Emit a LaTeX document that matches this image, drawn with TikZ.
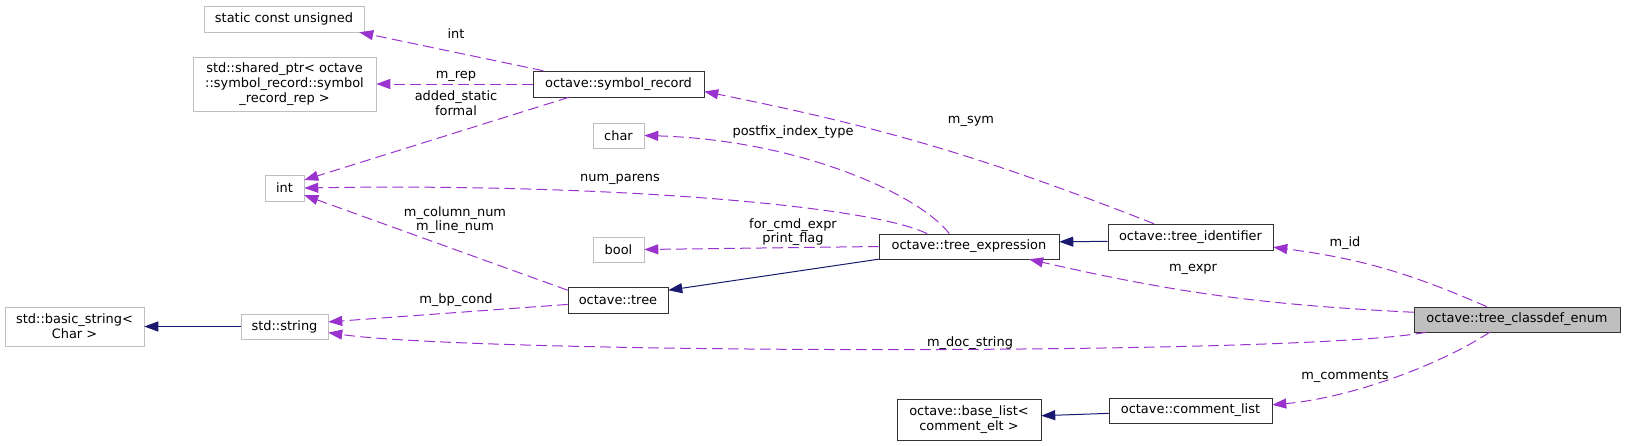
\documentclass[tikz,border=0pt]{standalone}
\usepackage{fontspec}
\setmainfont{DejaVu Sans}
\usetikzlibrary{arrows.meta}

\definecolor{usecol}{HTML}{9A32CD}
\definecolor{inhcol}{HTML}{191970}
\definecolor{extcol}{HTML}{BFBFBF}

\tikzset{
  cls/.style={draw=black!80, rectangle, inner sep=0pt, align=center, font=\fontsize{9.7}{11}\selectfont},
  ext/.style={cls, draw=extcol},
  root/.style={cls, fill=extcol},
  bx/.style 2 args={minimum width=#1*0.75pt, minimum height=#2*0.75pt},
  usage/.style={draw=usecol, dash pattern=on 8pt off 4pt, line width=0.75pt, -{Triangle[length=10.5pt,width=7.5pt]}},
  inherit/.style={draw=inhcol, line width=0.75pt, -{Triangle[length=10.5pt,width=7.5pt]}},
  lbl/.style={font=\fontsize{9.7}{11}\selectfont, align=center, inner sep=0pt},
}

\begin{document}
\begin{tikzpicture}[x=0.75pt, y=-0.75pt]
    \useasboundingbox (0,0) rectangle (1625,446);

    % external types
    \node[ext, bx={160}{26}] (stcu) at (284,19) {static const unsigned};
    \node[ext, bx={183}{54}] (shptr) at (284.5,84) {std::shared\_ptr< octave\\::symbol\_record::symbol\\\_record\_rep >};
    \node[ext, bx={39}{26}] (int) at (284.5,188) {int};
    \node[ext, bx={51}{25}] (char) at (618.5,135.5) {char};
    \node[ext, bx={51}{25}] (bool) at (618.5,249.5) {bool};
    \node[ext, bx={139}{39}] (bstr) at (74.5,326.5) {std::basic\_string<\\Char >};
    \node[ext, bx={87}{25}] (sstr) at (284.5,326.5) {std::string};

    % octave classes
    \node[cls, bx={171}{26}] (symrec) at (618.5,84) {octave::symbol\_record};
    \node[cls, bx={180}{25}] (texpr) at (969,246.5) {octave::tree\_expression};
    \node[cls, bx={100}{26}] (tree) at (618,300) {octave::tree};
    \node[cls, bx={165}{26}] (tid) at (1190.5,237) {octave::tree\_identifier};
    \node[cls, bx={163}{25}] (clist) at (1190.5,410.5) {octave::comment\_list};
    \node[cls, bx={144}{41}] (blist) at (969,419.5) {octave::base\_list<\\comment\_elt >};
    \node[root, bx={206}{25}] (enum) at (1517,319.5) {octave::tree\_classdef\_enum};

    % inheritance
    \draw[inherit] (sstr.west) -- (bstr.east);
    \draw[inherit] (texpr.188) -- (tree.11);
    \draw[inherit] (tid.183) -- (texpr.3);
    \draw[inherit] (clist.182) -- (blist.3);

    % usage
    \draw[usage] (symrec.170) -- (stcu.-10);
    \draw[usage] (symrec.west) -- (shptr.east);
    \draw[usage] (symrec.195) -- (int.22);
    \draw[usage] (texpr.163) .. controls (870,205) and (600,183) .. (int.east);
    \draw[usage] (texpr.147) .. controls (920,195) and (800,140) .. (char.east);
    \draw[usage] (texpr.west) -- (bool.east);
    \draw[usage] (tree.169) -- (int.-20);
    \draw[usage] (tree.185) -- (sstr.6);
    \draw[usage] (tid.160) to[bend right=5] (symrec.-5);
    \draw[usage] (enum.157) to[bend right=8] (tid.-7);
    \draw[usage] (enum.176) to[bend left=5] (texpr.-12);
    \draw[usage] (enum.188) .. controls (1300,356) and (480,354) .. (sstr.-8);
    \draw[usage] (enum.205) .. controls (1440,365) and (1350,398) .. (clist.4);

    % labels
    \node[lbl] (lint) at (456,34) {int};
    \node[lbl] (lrep) at (456,76) {m\_rep};
    \node[lbl] (lstatic) at (456,103) {added\_static\\formal};
    \node[lbl] (lparens) at (620,179) {num\_parens};
    \node[lbl] (lpostfix) at (793,132) {postfix\_index\_type};
    \node[lbl] (lsym) at (971,121) {m\_sym};
    \node[lbl] (lflag) at (793,232) {for\_cmd\_expr\\print\_flag};
    \node[lbl] (lnum) at (455,220) {m\_column\_num\\m\_line\_num};
    \node[lbl] (lcond) at (456,300) {m\_bp\_cond};
    \node[lbl] (ldoc) at (970,343) {m\_doc\_string};
    \node[lbl] (lexpr) at (1193,269) {m\_expr};
    \node[lbl] (lid) at (1345,243) {m\_id};
    \node[lbl] (lcom) at (1345,376) {m\_comments};
\end{tikzpicture}
\end{document}
